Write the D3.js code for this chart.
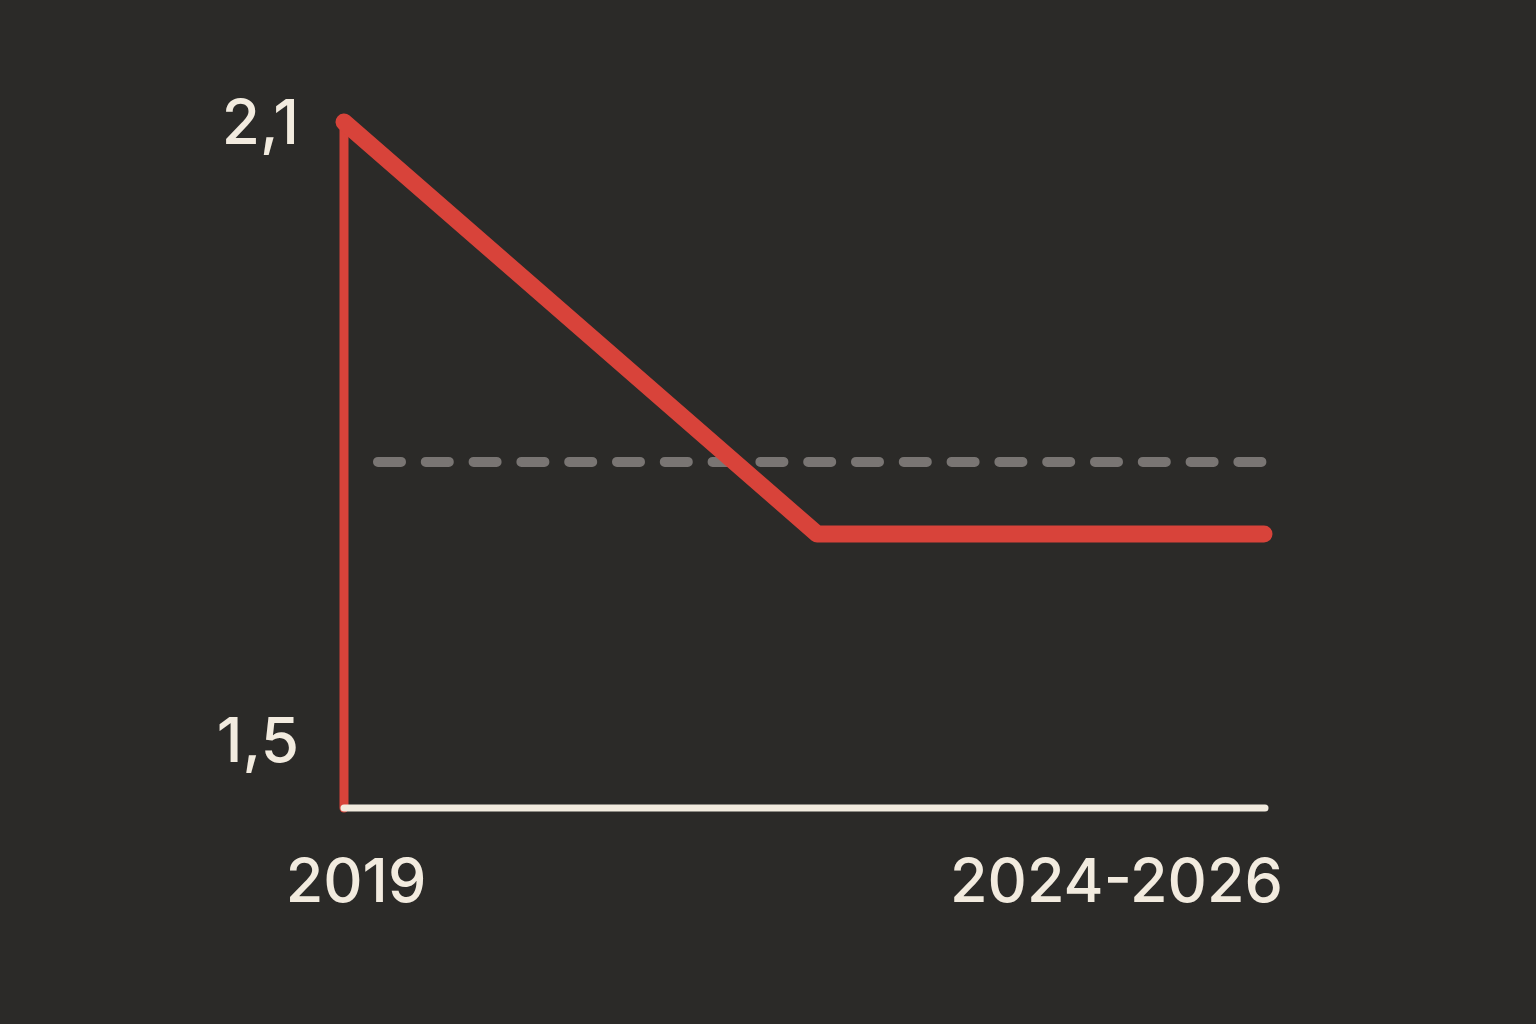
<!DOCTYPE html>
<html>
<head>
<meta charset="utf-8">
<script src="https://cdn.jsdelivr.net/npm/d3@7"></script>
<style>
  html, body { margin: 0; padding: 0; background: #2b2a28; }
  svg { display: block; }
  text { font-family: Inter, "Noto Sans", sans-serif; font-weight: 500; fill: #f2ebdf; }
</style>
</head>
<body>
<svg width="1536" height="1024"></svg>
<script>
// series: value per year (middle point is where the drop ends)
var years = [2019, 2022.6, 2026];
var values = [2.1, 1.7, 1.7];
var refValue = 1.77; // dashed reference line
var yTicks = [2.1, 1.5];
var xLabels = ["2019", "2024-2026"];

var W = 1536, H = 1024;
var svg = d3.select("svg");

svg.append("rect").attr("width", W).attr("height", H).attr("fill", "#2b2a28");

var x = d3.scaleLinear().domain([2019, 2026]).range([344, 1264]);
var y = d3.scaleLinear().domain([1.434, 2.1]).range([808, 122]);

var fmt = d => d.toFixed(1).replace(".", ",");

// dashed reference
svg.append("line")
  .attr("x1", x(2019) + 34).attr("x2", x(2026) + 2)
  .attr("y1", y(refValue)).attr("y2", y(refValue))
  .attr("stroke", "#797573")
  .attr("stroke-width", 10)
  .attr("stroke-linecap", "round")
  .attr("stroke-dasharray", "23 24.8");

// red left axis
svg.append("line")
  .attr("x1", x(2019)).attr("x2", x(2019))
  .attr("y1", y.range()[0]).attr("y2", y(2.1))
  .attr("stroke", "#d8433a")
  .attr("stroke-width", 9)
  .attr("stroke-linecap", "round");

// baseline
svg.append("line")
  .attr("x1", x(2019)).attr("x2", x(2026) + 1)
  .attr("y1", y.range()[0]).attr("y2", y.range()[0])
  .attr("stroke", "#f2ebdf")
  .attr("stroke-width", 7)
  .attr("stroke-linecap", "round");

var line = d3.line().x((d, i) => x(years[i])).y(d => y(d));

svg.append("path")
  .datum(values)
  .attr("d", line)
  .attr("fill", "none")
  .attr("stroke", "#d8433a")
  .attr("stroke-width", 17)
  .attr("stroke-linecap", "round")
  .attr("stroke-linejoin", "round");

// y labels
svg.selectAll(".ylab")
  .data(yTicks)
  .enter()
  .append("text")
  .attr("class", "ylab")
  .attr("x", 299)
  .attr("y", d => y(d) + 22)
  .attr("text-anchor", "end")
  .attr("font-size", 62)
  .text(fmt);

// x labels
svg.append("text")
  .attr("x", x(2019) + 12)
  .attr("y", 902)
  .attr("text-anchor", "middle")
  .attr("font-size", 61)
  .text(xLabels[0]);

svg.append("text")
  .attr("x", x(2026) + 19)
  .attr("y", 902)
  .attr("text-anchor", "end")
  .attr("font-size", 61)
  .text(xLabels[1]);
</script>
</body>
</html>
